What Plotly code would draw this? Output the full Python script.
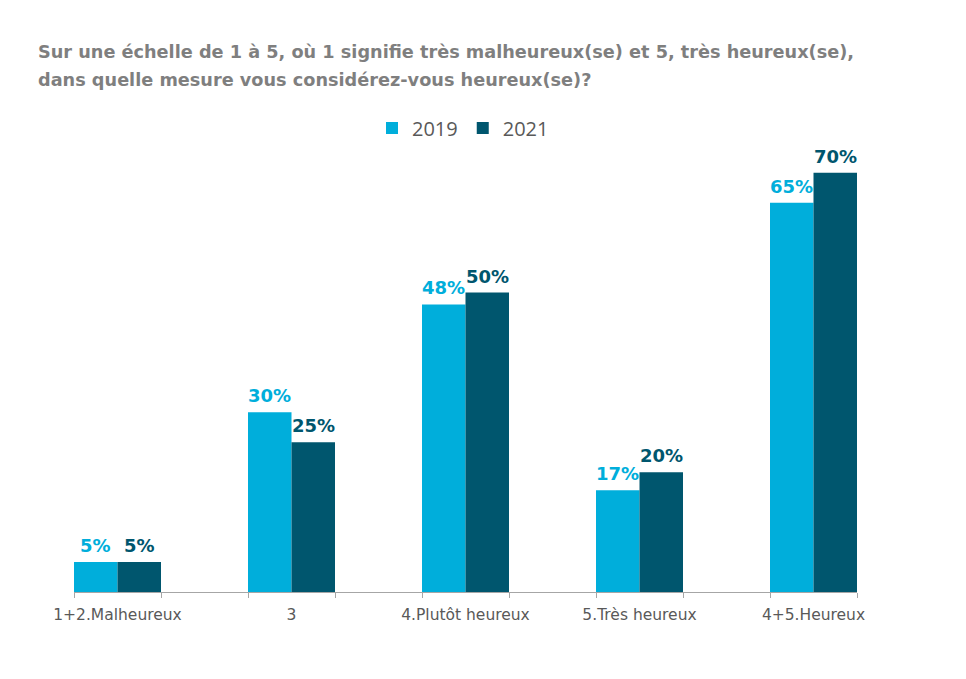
import plotly.graph_objects as go

categories = ["1+2.Malheureux", "3", "4.Plutôt heureux", "5.Très heureux", "4+5.Heureux"]
values_2019 = [5, 30, 48, 17, 65]
values_2021 = [5, 25, 50, 20, 70]
series_names = ["2019", "2021"]
colors = ["#00AEDB", "#00566E"]

title_lines = [
    "Sur une échelle de 1 à 5, où 1 signifie très malheureux(se) et 5, très heureux(se),",
    "dans quelle mesure vous considérez-vous heureux(se)?",
]

FONT = "DejaVu Sans, Liberation Sans, Arial"

idx = list(range(len(categories)))
fig = go.Figure()
for name, vals, col in zip(series_names, [values_2019, values_2021], colors):
    fig.add_trace(go.Bar(x=idx, y=vals, name=name, marker=dict(color=col, line=dict(width=0))))

annotations = []
for k, (vals, col) in enumerate(zip([values_2019, values_2021], colors)):
    off = -0.125 if k == 0 else 0.125
    for i, v in enumerate(vals):
        annotations.append(dict(x=i + off, y=v, xref="x", yref="y", text=f"{v}%",
                                showarrow=False, yanchor="bottom", yshift=4,
                                font=dict(family=FONT, size=18, color=col, weight="bold")))

for j, t in enumerate(title_lines):
    annotations.append(dict(x=36, y=52 + 28 * j, xref="paper", yref="paper", text=t, showarrow=False,
                            xanchor="left", yanchor="middle",
                            font=dict(family=FONT, size=17.7, color="#7F7F7F", weight="bold")))

# convert pixel title positions to paper coords
W, H = 966, 679
ml, mr, mt, mb = 74, 109, 150, 87
pw, ph = W - ml - mr, H - mt - mb
for a in annotations:
    if a["xref"] == "paper":
        a["x"] = (a["x"] - ml) / pw
        a["y"] = 1 - (a["y"] - mt) / ph

edges = []
for i in idx:
    edges += [i - 0.25, i + 0.25]

fig.update_layout(
    width=W, height=H,
    margin=dict(l=ml, r=mr, t=mt, b=mb),
    plot_bgcolor="white", paper_bgcolor="white",
    barmode="group", bargap=0.5, bargroupgap=0,
    showlegend=True,
    legend=dict(orientation="h", x=(463 - ml) / pw, xanchor="center", y=1 + (150 - 128) / ph, yanchor="middle",
                font=dict(family="Open Sans, Liberation Sans", size=20, color="#595959"),
                itemwidth=30, traceorder="normal"),
    xaxis=dict(range=[-0.25, 4.25], tickmode="array", tickvals=idx, ticktext=categories,
               ticks="", showgrid=False, zeroline=False, showline=True, linecolor="#A6A6A6", linewidth=1,
               ticklabelstandoff=8,
               tickfont=dict(family=FONT, size=15.5, color="#595959"),
               minor=dict(tickmode="array", tickvals=edges, ticks="outside", ticklen=5, tickcolor="#A6A6A6",
                          showgrid=False)),
    yaxis=dict(range=[0, ph / 5.99], visible=False, showgrid=False, zeroline=False),
    annotations=annotations,
)

fig.write_html("out.html")
